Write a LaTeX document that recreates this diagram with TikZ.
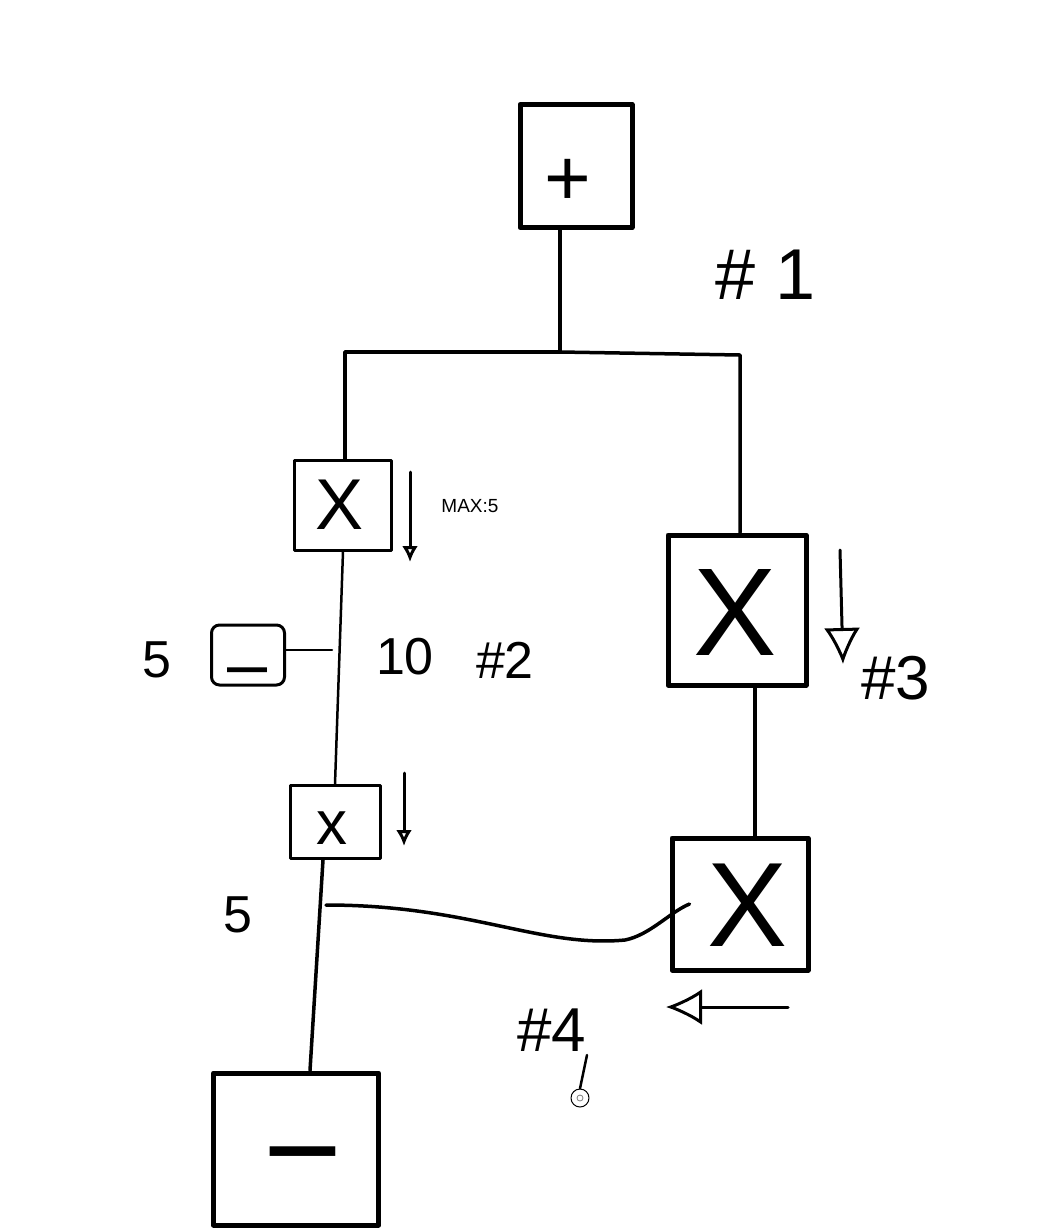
\documentclass[tikz,border=0pt]{standalone}
\usepackage{fontspec}
\setmainfont{Liberation Sans}
\usetikzlibrary{arrows.meta}
\begin{document}
\begin{tikzpicture}[x=1pt,y=-1pt,line cap=round,line join=round,
  bigbox/.style={draw,line width=5pt,inner sep=0pt},
  thinbox/.style={draw,line width=3pt,inner sep=0pt},
  wire/.style={line width=3.5pt},
  thinwire/.style={line width=2.5pt},
  sym/.style={inner sep=0pt,font=\fontsize{#1}{#1}\selectfont},
  lbl/.style={inner sep=0pt,font=\fontsize{#1}{#1}\selectfont},
  hand/.style={line width=3pt,-{Latex[open,length=#1,width=#1]}}]
\useasboundingbox (0,0) rectangle (1037,1232);
\fill[white] (0,0) rectangle (1037,1232);

% boxes
\node[bigbox,minimum width=112pt,minimum height=123pt] (plus) at (576,166) {};
\node[sym=80] at (568,182) {+};
\node[thinbox,minimum width=97pt,minimum height=90pt] (b2) at (343,505) {};
\node[sym=72] at (340,505) {X};
\node[thinbox,rounded corners=8pt,minimum width=73pt,minimum height=60pt] (side) at (248,655) {};
\node[sym=72] at (248,678) {–};
\node[bigbox,minimum width=138pt,minimum height=150pt] (b3) at (737,610) {};
\node[sym=125] at (735,612) {X};
\node[thinbox,minimum width=90pt,minimum height=73pt] (b4) at (335,822) {};
\node[sym=62] at (332,828) {x};
\node[bigbox,minimum width=136pt,minimum height=132pt] (b5) at (740,904) {};
\node[sym=120] at (748,905) {X};
\node[bigbox,minimum width=165pt,minimum height=152pt] (minus) at (296,1149) {};
\node[sym=135] at (303,1172) {−};

% junction coordinates
\coordinate (J) at (560,352);
\coordinate (L) at (345,352);
\coordinate (R) at (740,355);
\coordinate (T) at (332,650);
\coordinate (C) at (326,905);

% wires
\draw[wire] (J |- plus.south) -- (J);
\draw[wire] (J) -- (L) -- (L |- b2.north);
\draw[wire] (J) -- (R) -- (R |- b3.north);
\draw[thinwire] (b2.south) -- (b4.north);
\draw[thinwire] (side.east |- T) -- (T);
\draw[wire] ([xshift=18pt]b3.south) -- ([xshift=15pt]b5.north);
\draw[wire] ([xshift=-12pt]b4.south) -- ([xshift=14pt]minus.north);
\draw[wire] (C) .. controls (470,905) and (540,948) .. (625,940)
  .. controls (650,935) and (670,912) .. ([xshift=20pt]b5.west);

% hand arrows
\draw[hand=16pt] (410,472) -- (410,562);
\draw[hand=16pt] (404,773) -- (404,846);
\draw[hand=36pt] (840,550) -- (843,664);
\draw[hand=36pt] (788,1007) -- (666,1007);

% labels
\node[lbl=72] (n1) at (766,275) {\# 1};
\node[lbl=19] (mx) at (470,506) {MAX:5};
\node[lbl=52] (l5a) at (157,660) {5};
\node[lbl=52] (l10) at (405,657) {10};
\node[lbl=52] (n2) at (505,660) {\#2};
\node[lbl=62] (n3) at (896,678) {\#3};
\node[lbl=52] (l5b) at (238,915) {5};
\node[lbl=62] (n4) at (552,1030) {\#4};
\node[draw,circle,line width=1pt,minimum size=18pt,inner sep=0pt] (cur) at (580,1098) {};
\node[draw=gray,circle,line width=0.8pt,minimum size=6pt,inner sep=0pt] at (cur) {};
\draw[thinwire] (587,1055) -- (cur.north);
\end{tikzpicture}
\end{document}
